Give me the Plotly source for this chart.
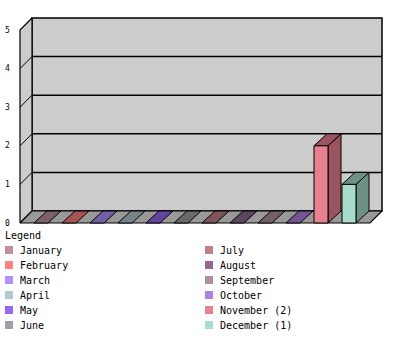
import plotly.graph_objects as go

# ---------------- data ----------------
months = ["January", "February", "March", "April", "May", "June",
          "July", "August", "September", "October", "November", "December"]
legend_labels = ["January", "February", "March", "April", "May", "June",
                 "July", "August", "September", "October", "November (2)", "December (1)"]
values = [0, 0, 0, 0, 0, 0, 0, 0, 0, 0, 2, 1]
colors = ["#C090A0", "#FF8080", "#B090FF", "#B0C8D0", "#9868F0", "#A0A0A8",
          "#C08088", "#906890", "#B090A0", "#B080E0", "#E88090", "#A8DCCC"]
y_ticks = [0, 1, 2, 3, 4, 5]

# ---------------- layout constants ----------------
W, H = 400, 350
PX_X = 28.0      # pixels per category slot
PX_Y = 38.6      # pixels per value unit
X0_PX = 41.0     # pixel x of first category centre
Y0_PX = 223.0    # pixel y of value 0 on the front plane
DEPTH = 12.0     # 3-D depth of walls (px)
BAR_DX = 13.0    # 3-D depth of bars (px, horizontal)
BAR_W = 0.5      # bar width in slot units
PAD = 0.75       # floor padding in slot units
WALL = "#CCCCCC"
FLOOR = "#999999"
FONT = "DejaVu Sans Mono"

n = len(months)
ymax = max(y_ticks)
dxw, dyw = DEPTH / PX_X, DEPTH / PX_Y
dxb, dyb = BAR_DX / PX_X, DEPTH / PX_Y
x_range = [-X0_PX / PX_X, (W - X0_PX) / PX_X]
y_range = [(Y0_PX - H) / PX_Y, Y0_PX / PX_Y]


def darken(hexcol, f=0.66):
    r, g, b = (int(hexcol[i:i + 2], 16) for i in (1, 3, 5))
    return "#%02X%02X%02X" % (int(r * f), int(g * f), int(b * f))


def poly(pts, fill, lw=1.0):
    xs = [p[0] for p in pts] + [pts[0][0]]
    ys = [p[1] for p in pts] + [pts[0][1]]
    return go.Scatter(x=xs, y=ys, mode="lines", fill="toself", fillcolor=fill,
                      line=dict(color="black", width=lw), hoverinfo="skip",
                      showlegend=False, xaxis="x", yaxis="y")


traces = []
xl, xr = -PAD, n - 1 + PAD
# back wall
traces.append(poly([(xl + dxw, dyw), (xr + dxw, dyw), (xr + dxw, ymax + dyw), (xl + dxw, ymax + dyw)], WALL, 1.5))
# grid lines on back wall
gx, gy = [], []
for v in y_ticks[1:-1]:
    gx += [xl + dxw, xr + dxw, None]
    gy += [v + dyw, v + dyw, None]
traces.append(go.Scatter(x=gx, y=gy, mode="lines", line=dict(color="black", width=1.5),
                         hoverinfo="skip", showlegend=False))
# left wall
traces.append(poly([(xl, 0), (xl, ymax), (xl + dxw, ymax + dyw), (xl + dxw, dyw)], WALL, 1.2))
dx_, dy_ = [], []
for v in y_ticks:
    dx_ += [xl, xl + dxw, None]
    dy_ += [v, v + dyw, None]
traces.append(go.Scatter(x=dx_, y=dy_, mode="lines", line=dict(color="black", width=1),
                         hoverinfo="skip", showlegend=False))
# floor
traces.append(poly([(xl, 0), (xr, 0), (xr + dxw, dyw), (xl + dxw, dyw)], FLOOR, 1.2))

# bars (pseudo 3-D)
for i, (v, c) in enumerate(zip(values, colors)):
    a, b = i - BAR_W / 2, i + BAR_W / 2
    dark = darken(c)
    if v > 0:
        traces.append(poly([(b, 0), (b, v), (b + dxb, v + dyb), (b + dxb, dyb)], dark, 1))
    traces.append(poly([(a, v), (b, v), (b + dxb, v + dyb), (a + dxb, v + dyb)], dark, 1))
    if v > 0:
        traces.append(poly([(a, 0), (b, 0), (b, v), (a, v)], c, 1))

# legend swatches on a pixel overlay axis
LEG_ROWS = 6
lx = [9 + 200 * (i // LEG_ROWS) for i in range(n)]
ly = [250 + 15 * (i % LEG_ROWS) for i in range(n)]
traces.append(go.Scatter(x=lx, y=ly, mode="markers", xaxis="x2", yaxis="y2",
                         marker=dict(symbol="square", size=8, color=colors, line=dict(width=0)),
                         hoverinfo="skip", showlegend=False))

annotations = []
for i, lab in enumerate(legend_labels):
    annotations.append(dict(x=lx[i] + 9, y=ly[i], xref="x2", yref="y2", text=lab,
                            showarrow=False, xanchor="left", yanchor="middle",
                            font=dict(family=FONT, size=10, color="black")))
annotations.append(dict(x=3, y=235, xref="x2", yref="y2", text="Legend", showarrow=False,
                        xanchor="left", yanchor="middle",
                        font=dict(family=FONT, size=10, color="black")))
for v in y_ticks:
    annotations.append(dict(x=7, y=v, xref="x2", yref="y", text=str(v), showarrow=False,
                            xanchor="center", yanchor="middle",
                            font=dict(family=FONT, size=8, color="black")))

axis_off = dict(visible=False, showgrid=False, zeroline=False, fixedrange=True)
fig = go.Figure(traces)
fig.update_layout(
    width=W, height=H, autosize=False,
    margin=dict(l=0, r=0, t=0, b=0, pad=0),
    paper_bgcolor="white", plot_bgcolor="white",
    showlegend=False,
    xaxis=dict(range=x_range, **axis_off),
    yaxis=dict(range=y_range, **axis_off),
    xaxis2=dict(range=[0, W], overlaying="x", anchor="y2", **axis_off),
    yaxis2=dict(range=[H, 0], overlaying="y", anchor="x2", **axis_off),
    annotations=annotations,
)
fig.write_html("out.html")
